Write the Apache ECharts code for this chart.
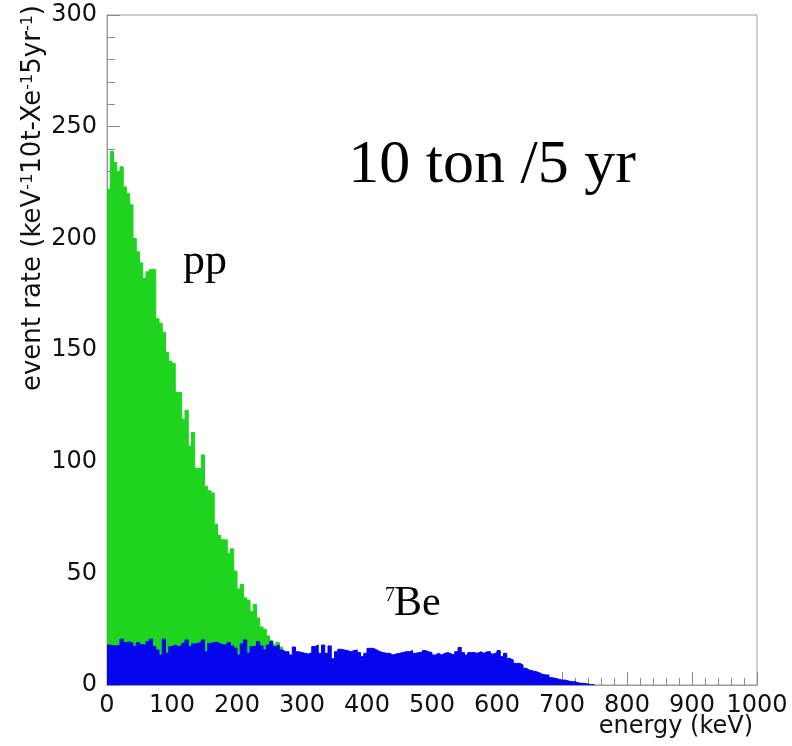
<!DOCTYPE html>
<html>
<head>
<meta charset="utf-8">
<script src="https://cdn.jsdelivr.net/npm/echarts@6/dist/echarts.min.js"></script>
<style>html,body{margin:0;padding:0;background:#fff;}#c{width:792px;height:746px;}</style>
</head>
<body>
<div id="c"></div>
<script>
// ---- data (5 keV bins starting at 0 keV) ----
const binWidth = 5;
const ppRate = [
  222,239,234,230,232,223,220,215,200,194,
  189,182,185,186,186,164,162,158,149,145,
  144,131,131,119,123,107,113,97,97,103,
  89,87,86,72,67,65,65,59,61,51,
  43,45,39,38,33,36,30,26,25,22,
  20,18,19,17
];
const be7Rate = [
  17.9,17.6,17.5,17.9,20.5,19.0,19.3,18.7,17.2,19.0,
  18.1,17.8,19.4,20.5,17.2,15.7,13.4,20.5,14.2,17.2,
  17.9,17.2,17.5,18.7,20.2,17.2,18.4,18.7,19.0,20.2,
  14.9,18.7,19.0,19.1,18.4,17.9,18.1,19.0,17.5,16.5,
  13.4,18.4,20.2,14.2,17.2,17.5,19.4,17.5,15.7,17.9,
  19.4,17.2,17.9,15.7,14.9,14.9,13.4,17.0,14.9,14.5,
  14.2,13.9,14.5,17.2,17.9,14.2,17.9,14.2,17.5,11.8,
  14.9,16.0,15.7,15.4,14.9,15.4,15.7,14.5,12.7,14.2,
  16.4,16.4,15.7,14.9,14.5,14.2,14.2,13.4,13.9,14.2,
  14.5,14.9,14.9,15.4,14.2,14.5,14.5,15.4,14.9,14.5,
  13.4,14.2,13.4,14.2,14.5,13.9,13.4,14.9,16.8,14.5,
  13.4,14.5,14.5,14.2,14.9,14.2,14.9,14.9,13.9,14.5,
  15.4,12.7,14.2,11.9,11.2,9.7,9.7,9.0,7.5,6.7,
  6.3,6.0,5.5,4.8,4.5,4.5,3.3,3.0,2.6,2.2,
  2.2,1.8,1.5,1.5,1.0,0.75,0.75,0.45,0.2,0.2
];
const xRange = [0, 1000];
const xStep = 100;
const xMinorStep = 20;
const yRange = [0, 300];
const yStep = 50;
const yMinorStep = 10;
const labelPP = 'pp';
const labelBeMass = '7';
const labelBe = 'Be';
const labelExposure = '10 ton /5 yr';
const xTitle = 'energy (keV)';

// histogram -> step points at bin edges
function toSteps(vals) {
  const pts = vals.map((v, i) => [i * binWidth, v]);
  pts.push([vals.length * binWidth, 0]);
  return pts;
}

const green = '#1ed41e';
const blue = '#0606ee';
const tickFont = 'DejaVu Sans';
const tickColor = '#8a8a8a';

function majorAxis(range, step, margin) {
  return {
    type: 'value', min: range[0], max: range[1], interval: step,
    axisLine: {show: true, lineStyle: {color: '#9a9a9a'}},
    axisTick: {show: true, inside: true, length: 13, lineStyle: {color: tickColor}},
    splitLine: {show: false},
    axisLabel: {color: '#111', fontFamily: tickFont, fontSize: 24, margin: margin, formatter: v => String(v)}
  };
}
function minorAxis(range, step, len) {
  return {
    type: 'value', min: range[0], max: range[1], interval: step,
    axisLine: {show: false},
    axisTick: {show: true, inside: true, length: len, lineStyle: {color: tickColor}},
    splitLine: {show: false},
    axisLabel: {show: false}
  };
}

const chart = echarts.init(document.getElementById('c'), null, {renderer: 'canvas'});
chart.setOption({
  animation: false,
  backgroundColor: '#fff',
  grid: {left: 107, right: 35, top: 15, bottom: 61, show: true, borderColor: '#9a9a9a', borderWidth: 1, backgroundColor: 'transparent'},
  xAxis: [
    Object.assign(majorAxis(xRange, xStep, 9), {position: 'bottom'}),
    Object.assign(minorAxis(xRange, xMinorStep, 7), {position: 'bottom', offset: 0})
  ],
  yAxis: [
    Object.assign(majorAxis(yRange, yStep, 10), {position: 'left'}),
    Object.assign(minorAxis(yRange, yMinorStep, 8), {position: 'left', offset: 0})
  ],
  series: [
    {
      type: 'line', name: 'pp', step: 'end', symbol: 'none', data: toSteps(ppRate),
      xAxisIndex: 0, yAxisIndex: 0,
      lineStyle: {color: green, width: 1}, areaStyle: {color: green, opacity: 1}, z: 2
    },
    {
      type: 'line', name: '7Be', step: 'end', symbol: 'none', data: toSteps(be7Rate),
      xAxisIndex: 0, yAxisIndex: 0,
      lineStyle: {color: blue, width: 1}, areaStyle: {color: blue, opacity: 1}, z: 3
    }
  ],
  graphic: [
    {
      type: 'text', x: 33, y: 5, rotation: Math.PI / 2,
      style: {
        text: '{a|event rate (keV}{s|-1}{a|10t-Xe}{s|-1}{a|5yr}{s|-1}{a|)}',
        align: 'right', verticalAlign: 'middle', fill: '#111',
        rich: {
          a: {fontFamily: tickFont, fontSize: 26, fill: '#111', verticalAlign: 'bottom'},
          s: {fontFamily: tickFont, fontSize: 16, fill: '#111', verticalAlign: 'top'}
        }
      }
    },
    {
      type: 'text', x: 753, y: 727,
      style: {text: xTitle, align: 'right', verticalAlign: 'middle', fontFamily: tickFont, fontSize: 24, fill: '#111'}
    },
    {
      type: 'text', x: 492, y: 166,
      style: {text: labelExposure, align: 'center', verticalAlign: 'middle', fontFamily: 'Liberation Serif', fontSize: 62, fill: '#000'}
    },
    {
      type: 'text', x: 183, y: 262,
      style: {text: labelPP, align: 'left', verticalAlign: 'middle', fontFamily: 'Liberation Serif', fontSize: 44, fill: '#000'}
    },
    {
      type: 'text', x: 385, y: 586,
      style: {text: labelBeMass, align: 'left', verticalAlign: 'top', fontFamily: 'Liberation Serif', fontSize: 20, fill: '#000'}
    },
    {
      type: 'text', x: 394, y: 604,
      style: {text: labelBe, align: 'left', verticalAlign: 'middle', fontFamily: 'Liberation Serif', fontSize: 42, fill: '#000'}
    }
  ]
});
</script>
</body>
</html>
